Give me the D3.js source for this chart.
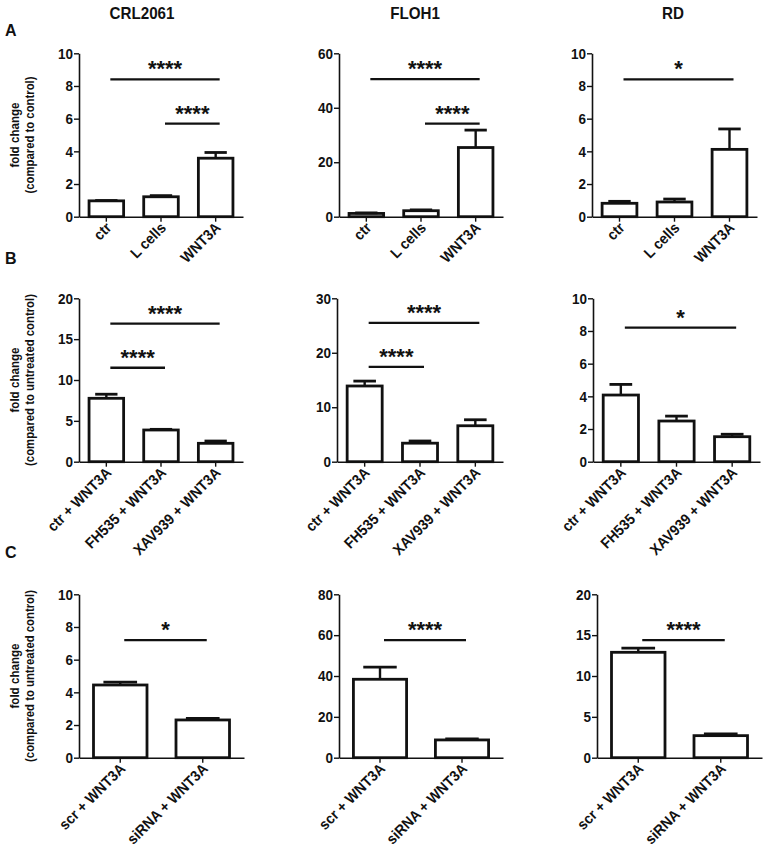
<!DOCTYPE html>
<html>
<head>
<meta charset="utf-8">
<script src="https://cdn.jsdelivr.net/npm/d3@7"></script>
<style>
  html, body { margin: 0; padding: 0; background: #fff; }
  svg { display: block; }
  text { font-family: "Liberation Sans", Arial, sans-serif; font-weight: bold; fill: #111; }
</style>
</head>
<body>
<svg id="chart" width="767" height="851"></svg>
<script>
// ---------------- DATA ----------------
const cellLines = ["CRL2061", "FLOH1", "RD"];
const rowLetters = ["A", "B", "C"];
const yLabelLine1 = "fold change";
const yLabelLine2 = ["(compared to control)", "(compared to untreated control)", "(compared to untreated control)"];

const categoriesA = ["ctr", "L cells", "WNT3A"];
const categoriesB = ["ctr + WNT3A", "FH535 + WNT3A", "XAV939 + WNT3A"];
const categoriesC = ["scr + WNT3A", "siRNA + WNT3A"];

// row A means / SEM
const meanA_CRL2061 = [0.97, 1.22, 3.58];
const semA_CRL2061  = [0.02, 0.07, 0.35];
const meanA_FLOH1   = [1.2, 2.2, 25.4];
const semA_FLOH1    = [0.2, 0.3, 6.4];
const meanA_RD      = [0.82, 0.9, 4.12];
const semA_RD       = [0.12, 0.18, 1.25];
// row B
const meanB_CRL2061 = [7.76, 3.88, 2.25];
const semB_CRL2061  = [0.5, 0.08, 0.28];
const meanB_FLOH1   = [13.9, 3.4, 6.6];
const semB_FLOH1    = [0.9, 0.4, 1.1];
const meanB_RD      = [4.08, 2.49, 1.53];
const semB_RD       = [0.65, 0.3, 0.15];
// row C
const meanC_CRL2061 = [4.45, 2.31];
const semC_CRL2061  = [0.17, 0.1];
const meanC_FLOH1   = [38.4, 8.7];
const semC_FLOH1    = [5.9, 0.5];
const meanC_RD      = [12.9, 2.7];
const semC_RD       = [0.5, 0.2];

// y-axis maxima and tick steps
const yMaxA = [10, 60, 10];  const yStepA = [2, 20, 2];
const yMaxB = [20, 30, 10];  const yStepB = [5, 10, 2];
const yMaxC = [10, 80, 20];  const yStepC = [2, 20, 5];

// significance brackets: [fromIndex, toIndex, yValue, label]
const sigA_CRL2061 = [[0, 2, 8.4, "****"], [1, 2, 5.7, "****"]];
const sigA_FLOH1   = [[0, 2, 50.5, "****"], [1, 2, 34.2, "****"]];
const sigA_RD      = [[0, 2, 8.4, "*"]];
const sigB_CRL2061 = [[0, 2, 16.9, "****"], [0, 1, 11.5, "****"]];
const sigB_FLOH1   = [[0, 2, 25.5, "****"], [0, 1, 17.4, "****"]];
const sigB_RD      = [[0, 2, 8.2, "*"]];
const sigC_CRL2061 = [[0, 1, 7.2, "*"]];
const sigC_FLOH1   = [[0, 1, 57.6, "****"]];
const sigC_RD      = [[0, 1, 14.4, "****"]];

// ---------------- LAYOUT ----------------
const rows = [
  { top: 53.3, bottom: 216.7, cats: categoriesA,
    xs: [[79, 243], [339, 503], [592, 757]],
    means: [meanA_CRL2061, meanA_FLOH1, meanA_RD], sems: [semA_CRL2061, semA_FLOH1, semA_RD],
    ymax: yMaxA, ystep: yStepA, sigs: [sigA_CRL2061, sigA_FLOH1, sigA_RD] },
  { top: 298.3, bottom: 461.7, cats: categoriesB,
    xs: [[79, 243], [337, 503], [593, 760]],
    means: [meanB_CRL2061, meanB_FLOH1, meanB_RD], sems: [semB_CRL2061, semB_FLOH1, semB_RD],
    ymax: yMaxB, ystep: yStepB, sigs: [sigB_CRL2061, sigB_FLOH1, sigB_RD] },
  { top: 594.3, bottom: 757.7, cats: categoriesC,
    xs: [[79, 244], [339, 503], [597, 762]],
    means: [meanC_CRL2061, meanC_FLOH1, meanC_RD], sems: [semC_CRL2061, semC_FLOH1, semC_RD],
    ymax: yMaxC, ystep: yStepC, sigs: [sigC_CRL2061, sigC_FLOH1, sigC_RD] }
];
const letterY = [36, 264, 558];
const titleX = [142, 415, 673];

const svg = d3.select("#chart");

function ctext(g, x, y, str, size, opts = {}) {
  const rot = opts.rotate || 0;
  const sx = opts.sx == null ? 1 : opts.sx;
  const t = g.append("text")
    .attr("transform", `translate(${x},${y}) rotate(${rot}) scale(${sx},1)`)
    .attr("font-size", size)
    .attr("text-anchor", opts.anchor || "middle")
    .text(str);
  if (opts.baseline) t.attr("dominant-baseline", opts.baseline);
  return t;
}

// column titles
cellLines.forEach((name, i) => ctext(svg, titleX[i], 19, name, 16.5, { sx: 0.92 }));

rows.forEach((row, r) => {
  // row letter
  ctext(svg, 5, letterY[r], rowLetters[r], 16, { anchor: "start" });
  // y labels
  const yc = (row.top + row.bottom) / 2;
  ctext(svg, 15, yc, yLabelLine1, 13.5, { rotate: -90, baseline: "central", sx: 0.86 });
  ctext(svg, 30, yc, yLabelLine2[r], 13.5, { rotate: -90, baseline: "central", sx: 0.84 });

  cellLines.forEach((cl, c) => {
    const [x0, x1] = row.xs[c];
    const g = svg.append("g");
    const x = d3.scaleBand().domain(row.cats).range([x0, x1]).paddingInner(0.32).paddingOuter(0.16);
    const y = d3.scaleLinear().domain([0, row.ymax[c]]).range([row.bottom, row.top]);
    const means = row.means[c], sems = row.sems[c];

    // bars
    const bw = x.bandwidth();
    g.selectAll("rect.bar").data(row.cats).join("rect")
      .attr("x", d => x(d) + 1.3)
      .attr("y", (d, i) => y(means[i]))
      .attr("width", bw - 2.6)
      .attr("height", (d, i) => y(0) - y(means[i]))
      .attr("fill", "#fff").attr("stroke", "#111").attr("stroke-width", 2.8);

    // error bars (upper only)
    row.cats.forEach((d, i) => {
      const cx = x(d) + bw / 2;
      const yTop = y(means[i] + sems[i]);
      g.append("line").attr("x1", cx).attr("x2", cx).attr("y1", y(means[i])).attr("y2", yTop)
        .attr("stroke", "#111").attr("stroke-width", 2.4);
      g.append("line").attr("x1", cx - bw * 0.3).attr("x2", cx + bw * 0.3).attr("y1", yTop).attr("y2", yTop)
        .attr("stroke", "#111").attr("stroke-width", 2.8);
    });

    // y axis
    const ticks = d3.range(0, row.ymax[c] + 1e-9, row.ystep[c]);
    const yAxis = g.append("g").attr("transform", `translate(${x0},0)`)
      .call(d3.axisLeft(y).tickValues(ticks).tickSize(5).tickSizeOuter(0).tickPadding(2));
    yAxis.select(".domain").attr("stroke", "#111").attr("stroke-width", 1.6);
    yAxis.selectAll(".tick line").attr("stroke", "#111").attr("stroke-width", 1.4);
    yAxis.selectAll(".tick text").remove();
    ticks.forEach(v => ctext(g, x0 - 6, y(v), String(v), 15, { anchor: "end", baseline: "central", sx: 0.9 }));

    // x axis
    const xAxis = g.append("g").attr("transform", `translate(0,${row.bottom})`)
      .call(d3.axisBottom(x).tickSize(5).tickSizeOuter(0));
    xAxis.select(".domain").attr("stroke", "#111").attr("stroke-width", 1.6);
    xAxis.selectAll(".tick line").attr("stroke", "#111").attr("stroke-width", 1.4);
    xAxis.selectAll(".tick text").remove();
    row.cats.forEach(d => {
      const cx = x(d) + bw / 2;
      ctext(g, cx + 6, row.bottom + 12, d, 15, { rotate: -45, anchor: "end", sx: 0.93 });
    });

    // significance lines
    row.sigs[c].forEach(([a, b, yv, lab]) => {
      const xa = x(row.cats[a]) + bw / 2 + 4;
      const xb = x(row.cats[b]) + bw / 2 + 4;
      g.append("line").attr("x1", xa).attr("x2", xb).attr("y1", y(yv)).attr("y2", y(yv))
        .attr("stroke", "#111").attr("stroke-width", 2.3);
      ctext(g, (xa + xb) / 2, y(yv) - 3, lab, 22);
    });
  });
});
</script>
</body>
</html>
